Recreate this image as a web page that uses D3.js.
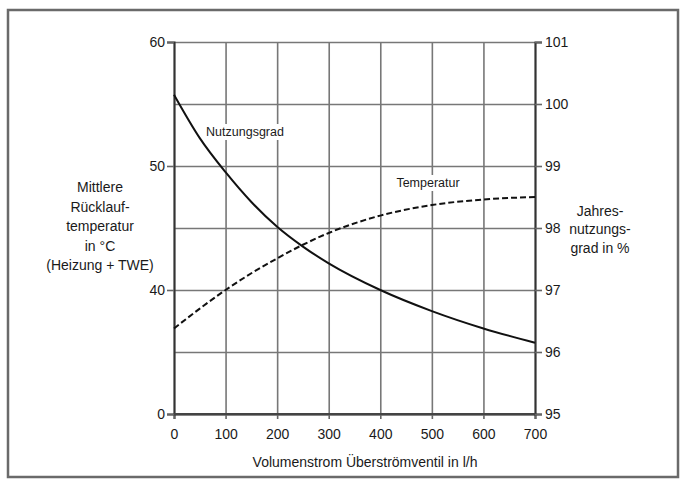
<!DOCTYPE html>
<html lang="de">
<head>
<meta charset="UTF-8" />
<title>Rücklauftemperatur und Nutzungsgrad</title>
<script src="https://cdn.jsdelivr.net/npm/d3@7"></script>
<style>
  body { margin: 0; background: #fff; }
  text { font-family: "Liberation Sans", Arial, sans-serif; fill: #1a1a1a; }
</style>
</head>
<body>
<svg id="svg"></svg>
<script>
  const volumen = [0, 50, 100, 150, 200, 250, 300, 400, 500, 600, 700];
  const temperatur = [36.9, 38.5, 40.0, 41.35, 42.55, 43.65, 44.6, 46.0, 46.85, 47.3, 47.5];
  const nutzungsgrad = [100.15, 99.45, 98.9, 98.42, 98.02, 97.7, 97.43, 97.0, 96.66, 96.38, 96.15];

  const xTicks = [0, 100, 200, 300, 400, 500, 600, 700];
  const leftTicks = [30, 40, 50, 60];
  const leftLabels = ["0", "40", "50", "60"];
  const rightTicks = [95, 96, 97, 98, 99, 100, 101];

  const width = 681;
  const height = 486;
  const margin = { top: 42, right: 146, bottom: 72, left: 174 };
  const innerWidth = width - margin.left - margin.right;
  const innerHeight = height - margin.top - margin.bottom;

  const svg = d3.select("#svg").attr("width", width).attr("height", height);

  // Rahmen
  svg.append("rect")
    .attr("x", 8).attr("y", 10)
    .attr("width", 670).attr("height", 467)
    .attr("fill", "none")
    .attr("stroke", "#6a6a6a")
    .attr("stroke-width", 2.5);

  const g = svg.append("g")
    .attr("transform", `translate(${margin.left}, ${margin.top})`);

  const xScale = d3.scaleLinear().domain([0, 700]).range([0, innerWidth]);
  const yLeft = d3.scaleLinear().domain([30, 60]).range([innerHeight, 0]);
  const yRight = d3.scaleLinear().domain([95, 101]).range([innerHeight, 0]);

  // Gitter
  g.append("g")
    .attr("class", "grid")
    .attr("transform", `translate(0, ${innerHeight})`)
    .call(d3.axisBottom(xScale).tickValues(xTicks).tickSize(-innerHeight).tickFormat(""));
  g.append("g")
    .attr("class", "grid")
    .call(d3.axisLeft(yRight).tickValues(rightTicks).tickSize(-innerWidth).tickFormat(""));
  g.selectAll(".grid .domain").remove();
  g.selectAll(".grid line").attr("stroke", "#777").attr("stroke-width", 1.6);

  // Achsen
  const xAxis = g.append("g")
    .attr("transform", `translate(0, ${innerHeight})`)
    .call(d3.axisBottom(xScale).tickValues(xTicks).tickSize(5).tickPadding(10));
  const leftAxis = g.append("g")
    .call(d3.axisLeft(yLeft).tickValues(leftTicks).tickSize(7).tickPadding(2)
      .tickFormat((d, i) => leftLabels[i]));
  const rightAxis = g.append("g")
    .attr("transform", `translate(${innerWidth}, 0)`)
    .call(d3.axisRight(yRight).tickValues(rightTicks).tickSize(7).tickPadding(3)
      .tickFormat(d3.format("d")));

  [xAxis, leftAxis, rightAxis].forEach((a) => {
    a.select(".domain").attr("stroke", "#333").attr("stroke-width", 2);
    a.selectAll(".tick line").attr("stroke", "#666").attr("stroke-width", 1.6);
    a.selectAll(".tick text").attr("font-size", "14px").attr("fill", "#1a1a1a");
  });
  g.append("line").attr("x1", 0).attr("x2", innerWidth)
    .attr("y1", innerHeight).attr("y2", innerHeight)
    .attr("stroke", "#444").attr("stroke-width", 2);

  // Kurven
  const lineTemp = d3.line()
    .x((d, i) => xScale(volumen[i]))
    .y((d) => yLeft(d))
    .curve(d3.curveMonotoneX);
  const lineNutz = d3.line()
    .x((d, i) => xScale(volumen[i]))
    .y((d) => yRight(d))
    .curve(d3.curveMonotoneX);

  g.append("path")
    .datum(temperatur)
    .attr("d", lineTemp)
    .attr("fill", "none")
    .attr("stroke", "#111")
    .attr("stroke-width", 2)
    .attr("stroke-dasharray", "6,3");

  g.append("path")
    .datum(nutzungsgrad)
    .attr("d", lineNutz)
    .attr("fill", "none")
    .attr("stroke", "#111")
    .attr("stroke-width", 2);

  // Kurvenbeschriftungen mit weißem Hintergrund
  function label(text, x, y) {
    const t = svg.append("text")
      .text(text)
      .attr("x", x).attr("y", y)
      .attr("text-anchor", "middle")
      .attr("dominant-baseline", "central")
      .attr("font-size", "12.5px");
    const b = t.node().getBBox();
    svg.insert("rect", () => t.node())
      .attr("x", b.x - 2).attr("y", b.y - 1)
      .attr("width", b.width + 4).attr("height", b.height + 2)
      .attr("fill", "#fff");
  }
  label("Nutzungsgrad", 245, 132);
  label("Temperatur", 428, 183);

  // Achsentitel
  const leftTitle = ["Mittlere", "Rücklauf-", "temperatur", "in °C", "(Heizung + TWE)"];
  const leftY = [187, 207, 226, 246, 265];
  leftTitle.forEach((s, i) => {
    svg.append("text").text(s)
      .attr("x", 100).attr("y", leftY[i])
      .attr("text-anchor", "middle")
      .attr("dominant-baseline", "central")
      .attr("font-size", "14px");
  });

  const rightTitle = ["Jahres-", "nutzungs-", "grad in %"];
  const rightY = [211, 229, 248];
  rightTitle.forEach((s, i) => {
    svg.append("text").text(s)
      .attr("x", 600).attr("y", rightY[i])
      .attr("text-anchor", "middle")
      .attr("dominant-baseline", "central")
      .attr("font-size", "14px");
  });

  svg.append("text")
    .text("Volumenstrom Überströmventil in l/h")
    .attr("x", 365).attr("y", 462)
    .attr("text-anchor", "middle")
    .attr("dominant-baseline", "central")
    .attr("font-size", "14px");
</script>
</body>
</html>
